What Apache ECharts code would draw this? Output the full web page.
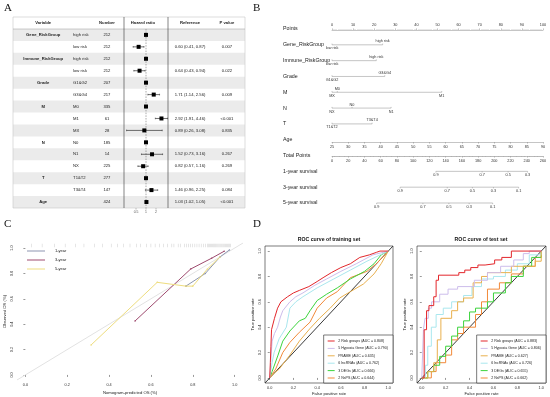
<!DOCTYPE html>
<html><head><meta charset="utf-8">
<script src="https://cdn.jsdelivr.net/npm/echarts@6/dist/echarts.min.js"></script>
<style>html,body{margin:0;padding:0;background:#fff}#c{width:550px;height:397px}</style>
</head><body><div id="c"></div>
<script>
// ================= DATA =================
// Panel A - forest plot
const forestVars   = ['Gene_RiskGroup','','Immune_RiskGroup','','Grade','','M','','','N','','','T','','Age'];
const forestLevels = ['high risk','low risk','high risk','low risk','G1&G2','G3&G4','M0','M1','MX','N0','N1','NX','T1&T2','T3&T4',''];
const forestN      = [212,212,212,212,207,217,335,61,28,185,14,225,277,147,424];
const forestHR     = [1,0.60,1,0.64,1,1.71,1,2.92,0.89,1,1.52,0.82,1,1.46,1.03];
const forestLo     = [null,0.41,null,0.43,null,1.14,null,1.91,0.26,null,0.73,0.57,null,0.96,1.02];
const forestHi     = [null,0.87,null,0.94,null,2.56,null,4.46,3.08,null,3.16,1.16,null,2.25,1.05];
const forestP      = ['','0.007','','0.022','','0.009','','<0.001','0.835','','0.267','0.269','','0.084','<0.001'];
const forestHeader = ['Variable','Number','Hazard ratio','Reference','P value'];
const forestTicks  = [0.5, 1, 2];

// Panel B - nomogram
const nomoRowLabels = ['Points','Gene_RiskGroup','Immune_RiskGroup','Grade','M','N','T','Age','Total Points','1-year survival','3-year survival','5-year survival'];
const geneLevels = ['low risk','high risk'];   const genePts = [0, 24];
const immuneLevels = ['low risk','high risk']; const immunePts = [0, 21];
const gradeLevels = ['G1&G2','G3&G4'];         const gradePts = [0, 25];
const mLevels = ['MX','M0','M1'];              const mPts = [0, 2.5, 52];
const nLevels = ['NX','N0','N1'];              const nPts = [0, 9.5, 28];
const tLevels = ['T1&T2','T3&T4'];             const tPts = [0, 19];
const surv1yProb = [0.9,0.7,0.5,0.3];      const surv1yPts = [128,185,217,241];
const surv3yProb = [0.9,0.7,0.5,0.3,0.1];  const surv3yPts = [84,142,173,199,230];
const surv5yProb = [0.9,0.7,0.5,0.3,0.1];  const surv5yPts = [55,112,144,169,198];

// Panel C - calibration
const cal1yPred = [0.767,0.86,0.93,0.975]; const cal1yObs = [0.70,0.80,0.93,0.985];
const cal3yPred = [0.524,0.79,0.89,0.95];  const cal3yObs = [0.425,0.835,0.92,0.975];
const cal5yPred = [0.314,0.63,0.767,0.80,0.87,0.93]; const cal5yObs = [0.236,0.73,0.70,0.70,0.835,0.93];
const rugPred = [0.03,0.08,0.14,0.19,0.24,0.28,0.33,0.37,0.41,0.44,0.47,0.50,0.53,0.55,0.58,0.60,0.62,0.64,0.66,0.68,0.70,0.71,0.73,0.74,0.76,0.77,0.78,0.79,0.80,0.81,0.82,0.83,0.84,0.85,0.86,0.87,0.875,0.88,0.885,0.89,0.895,0.90,0.905,0.91,0.915,0.92,0.925,0.93,0.935,0.94,0.945,0.95,0.955,0.96,0.965,0.97,0.975,0.98];
const axisTicks01 = [0,0.2,0.4,0.6,0.8,1.0];

// Panel D - ROC
const rocModels = ['2 Risk groups','5 Hypoxia Gene','PRAME','6 lncRNAs','3 DEGs','2 NsPS'];
const aucTrain = ['0.808','0.790','0.635','0.762','0.666','0.644'];
const aucTest  = ['0.883','0.806','0.627','0.726','0.655','0.662'];
const trainRed = [[0,0],[0.005,0.12],[0.01,0.25],[0.015,0.38],[0.04,0.47],[0.066,0.55],[0.094,0.60],[0.15,0.64],[0.2,0.67],[0.25,0.69],[0.33,0.72],[0.4,0.76],[0.45,0.79],[0.52,0.83],[0.6,0.87],[0.68,0.90],[0.76,0.95],[0.84,0.97],[0.9,0.99],[0.93,1],[1,1]];
const trainLav = [[0,0],[0.01,0.15],[0.02,0.29],[0.04,0.35],[0.066,0.40],[0.09,0.48],[0.11,0.53],[0.17,0.60],[0.22,0.64],[0.28,0.67],[0.38,0.73],[0.48,0.78],[0.6,0.84],[0.73,0.90],[0.87,0.97],[1,1]];
const trainTan = [[0,0],[0.04,0.04],[0.08,0.07],[0.17,0.18],[0.25,0.29],[0.34,0.39],[0.42,0.47],[0.51,0.55],[0.59,0.63],[0.68,0.68],[0.79,0.74],[0.88,0.82],[0.94,0.90],[1,1]];
const trainCyan = [[0,0],[0.02,0.12],[0.037,0.20],[0.08,0.31],[0.14,0.40],[0.17,0.55],[0.22,0.60],[0.28,0.64],[0.4,0.71],[0.54,0.78],[0.68,0.85],[0.82,0.92],[1,1]];
const trainGreen = [[0,0],[0.02,0.05],[0.07,0.18],[0.11,0.29],[0.17,0.37],[0.25,0.45],[0.30,0.47],[0.34,0.53],[0.4,0.61],[0.48,0.66],[0.57,0.71],[0.68,0.78],[0.8,0.84],[0.88,0.90],[0.94,0.97],[1,1]];
const trainOrange = [[0,0],[0.05,0.07],[0.11,0.20],[0.17,0.28],[0.25,0.36],[0.34,0.44],[0.4,0.55],[0.48,0.63],[0.57,0.68],[0.68,0.79],[0.82,0.84],[0.9,0.90],[1,1]];
const testRed = [[0,0],[0.02,0.38],[0.04,0.53],[0.06,0.57],[0.1,0.64],[0.12,0.77],[0.14,0.81],[0.31,0.83],[0.36,0.85],[0.41,0.87],[0.47,0.89],[0.53,0.90],[0.61,0.93],[0.67,0.95],[0.75,1],[1,1]];
const testLav = [[0,0],[0.014,0.38],[0.027,0.47],[0.055,0.55],[0.082,0.60],[0.15,0.66],[0.22,0.70],[0.30,0.72],[0.44,0.77],[0.55,0.83],[0.66,0.88],[0.77,0.93],[0.85,0.98],[0.9,1],[1,1]];
const testTan = [[0,0],[0.05,0.05],[0.1,0.12],[0.13,0.30],[0.16,0.47],[0.25,0.53],[0.30,0.60],[0.35,0.63],[0.43,0.75],[0.5,0.80],[0.55,0.83],[0.75,0.88],[0.95,0.92],[1,1]];
const testCyan = [[0,0],[0.03,0.10],[0.05,0.25],[0.08,0.40],[0.12,0.50],[0.18,0.55],[0.25,0.60],[0.35,0.65],[0.42,0.72],[0.5,0.78],[0.6,0.80],[0.7,0.85],[0.8,0.90],[0.9,0.97],[1,1]];
const testGreen = [[0,0],[0.05,0.05],[0.1,0.10],[0.15,0.17],[0.2,0.25],[0.25,0.33],[0.3,0.40],[0.35,0.45],[0.4,0.52],[0.45,0.55],[0.55,0.60],[0.6,0.67],[0.7,0.75],[0.75,0.80],[0.85,0.88],[0.92,0.95],[1,1]];
const testOrange = [[0,0],[0.08,0.05],[0.12,0.12],[0.2,0.18],[0.25,0.30],[0.3,0.35],[0.35,0.40],[0.45,0.50],[0.5,0.60],[0.55,0.70],[0.65,0.75],[0.75,0.82],[0.85,0.88],[0.95,0.95],[1,1]];

// ================= LAYOUT / STYLE =================
const FONT = 'Liberation Sans';
const COL = {variable:0.13, level:0.259, number:0.405, hr:0.56, ref:0.763, p:0.922};
const rocColors = ['#E3262B','#CDBDEB','#E9B04E','#A9E7EE','#3DD43D','#F28A3A'];
const calColors = ['#8C95B0','#9E4A6E','#EEDD7E'];

const chart = echarts.init(document.getElementById('c'), null, {renderer:'canvas'});

const fmt2 = v => v.toFixed(2);
function txt(text, x, y, o) {
  return {type:'text', style:Object.assign({text, x, y, fontFamily:FONT, fontSize:4.2, fill:'#222', align:'center', verticalAlign:'middle'}, o||{})};
}

// table shading
const shadeSeries = {
  type:'custom', xAxisIndex:0, yAxisIndex:0, z:1, silent:true,
  data: forestN.map((n,i)=>[0.5, i+1]),
  renderItem(params, api){
    const row = api.value(1);
    if (row % 2 !== 1) return;
    const a = api.coord([0,row-0.5]), b = api.coord([1,row+0.5]);
    return {type:'rect', shape:{x:a[0], y:a[1], width:b[0]-a[0], height:b[1]-a[1]}, style:{fill:'#EBEBEB'}};
  }
};
const tableTextSeries = {
  type:'custom', xAxisIndex:0, yAxisIndex:0, z:5, silent:true,
  data: forestN.map((n,i)=>[0.5, i+1]),
  renderItem(params, api){
    const i = params.dataIndex, row = api.value(1);
    const y = api.coord([0,row])[1];
    const X = c => api.coord([c,row])[0];
    const ch = [];
    if (forestVars[i]) ch.push(txt(forestVars[i], X(COL.variable), y, {fontWeight:'bold'}));
    if (forestLevels[i]) ch.push(txt(forestLevels[i], X(COL.level), y, {align:'left'}));
    ch.push(txt(String(forestN[i]), X(COL.number), y));
    if (forestLo[i] != null) ch.push(txt(fmt2(forestHR[i])+' ('+fmt2(forestLo[i])+', '+fmt2(forestHi[i])+')', X(COL.ref), y));
    if (forestP[i]) ch.push(txt(forestP[i], X(COL.p), y));
    return {type:'group', children:ch};
  }
};
const tableHeaderSeries = {
  type:'custom', xAxisIndex:0, yAxisIndex:0, z:5, silent:true,
  data:[[0.5,0]],
  renderItem(params, api){
    const y = api.coord([0,0])[1];
    const xs = [COL.variable, COL.number, COL.hr, COL.ref, COL.p];
    return {type:'group', children: forestHeader.map((h,k)=>txt(h, api.coord([xs[k],0])[0], y, {fontWeight:'bold'}))};
  }
};
const forestSeries = {
  type:'custom', xAxisIndex:1, yAxisIndex:1, z:6, silent:true,
  data: forestHR.map((h,i)=>[h, i+1]),
  renderItem(params, api){
    const i = params.dataIndex;
    const c = api.coord([api.value(0), api.value(1)]);
    const ch = [];
    if (forestLo[i] != null) {
      const a = api.coord([forestLo[i], i+1]), b = api.coord([forestHi[i], i+1]);
      ch.push({type:'line', shape:{x1:a[0],y1:a[1],x2:b[0],y2:b[1]}, style:{stroke:'#111', lineWidth:0.6}});
      ch.push({type:'line', shape:{x1:a[0],y1:a[1]-0.8,x2:a[0],y2:a[1]+0.8}, style:{stroke:'#111', lineWidth:0.5}});
      ch.push({type:'line', shape:{x1:b[0],y1:b[1]-0.8,x2:b[0],y2:b[1]+0.8}, style:{stroke:'#111', lineWidth:0.5}});
    }
    ch.push({type:'rect', shape:{x:c[0]-2, y:c[1]-2, width:4, height:4}, style:{fill:'#000'}});
    return {type:'group', children:ch};
  }
};
const forestRefLine = {
  type:'custom', xAxisIndex:1, yAxisIndex:1, z:4, silent:true,
  data:[[1,0.5]],
  renderItem(params, api){
    const a = api.coord([1,0.5]), b = api.coord([1,15.5]);
    return {type:'line', shape:{x1:a[0],y1:a[1],x2:b[0],y2:b[1]}, style:{stroke:'#555', lineWidth:0.5, lineDash:[1.5,1.2]}};
  }
};
const forestTickSeries = {
  type:'custom', xAxisIndex:1, yAxisIndex:1, z:6, silent:true,
  data: forestTicks.map(v=>[v,15.5]),
  renderItem(params, api){
    const c = api.coord([api.value(0), 15.5]);
    return {type:'group', children:[
      {type:'line', shape:{x1:c[0],y1:c[1],x2:c[0],y2:c[1]+1.5}, style:{stroke:'#666', lineWidth:0.5}},
      txt(String(api.value(0)), c[0], c[1]+3.6, {fontSize:3.4, fill:'#555'})
    ]};
  }
};

// nomogram
const nomoLv = [geneLevels, immuneLevels, gradeLevels, mLevels, nLevels, tLevels];
const nomoPt = [genePts, immunePts, gradePts, mPts, nPts, tPts];
const nomoVarSeries = {
  type:'custom', xAxisIndex:2, yAxisIndex:2, silent:true,
  data: nomoLv.map((l,j)=>[0, j+1]),
  renderItem(params, api){
    const j = params.dataIndex, row = j+1;
    const pts = nomoPt[j], lv = nomoLv[j];
    const a = api.coord([Math.min(...pts), row]), b = api.coord([Math.max(...pts), row]);
    const ch = [{type:'line', shape:{x1:a[0],y1:a[1],x2:b[0],y2:b[1]}, style:{stroke:'#8a8a8a', lineWidth:0.5}}];
    pts.forEach((p,k)=>{
      const c = api.coord([p,row]);
      ch.push({type:'line', shape:{x1:c[0],y1:c[1]-1.2,x2:c[0],y2:c[1]}, style:{stroke:'#8a8a8a', lineWidth:0.5}});
      ch.push(txt(lv[k], c[0], k%2===0 ? c[1]+3.4 : c[1]-3.6, {fontSize:3.8, fill:'#333'}));
    });
    return {type:'group', children:ch};
  }
};
const survP = [surv1yPts, surv3yPts, surv5yPts], survV = [surv1yProb, surv3yProb, surv5yProb];
const nomoSurvSeries = {
  type:'custom', xAxisIndex:3, yAxisIndex:2, silent:true,
  data: survP.map((s,j)=>[0, 9+j]),
  renderItem(params, api){
    const j = params.dataIndex, row = 9+j;
    const pts = survP[j], pv = survV[j];
    const a = api.coord([pts[0], row]), b = api.coord([pts[pts.length-1], row]);
    const ch = [{type:'line', shape:{x1:a[0],y1:a[1],x2:b[0],y2:b[1]}, style:{stroke:'#8a8a8a', lineWidth:0.5}}];
    pts.forEach((p,k)=>{
      const c = api.coord([p,row]);
      ch.push({type:'line', shape:{x1:c[0],y1:c[1],x2:c[0],y2:c[1]+1.2}, style:{stroke:'#8a8a8a', lineWidth:0.5}});
      ch.push(txt(pv[k].toFixed(1), c[0], c[1]+3.6, {fontSize:3.8, fill:'#333'}));
    });
    return {type:'group', children:ch};
  }
};

function nomoAxis(grid, min, max, interval, pos, minor){
  return {type:'value', gridIndex:grid, min, max, interval, position:pos,
    axisLine:{show:true, lineStyle:{color:'#8a8a8a', width:0.5}},
    axisTick:{show:true, length:1.6, lineStyle:{color:'#8a8a8a', width:0.5}},
    minorTick:{show:!!minor, splitNumber:minor||5, length:1, lineStyle:{color:'#8a8a8a', width:0.4}},
    axisLabel:{fontSize:3.8, color:'#333', margin:2.5, fontFamily:FONT},
    splitLine:{show:false}};
}
const hiddenY = g => ({type:'value', gridIndex:g, show:false});

function plotAxis(grid, name, isY, nameGap){
  return {type:'value', gridIndex:grid, min:-0.04, max:1.04,
    name, nameLocation:'middle', nameGap, nameTextStyle:{fontSize:4.2, color:'#222', fontFamily:FONT},
    axisLine:{show:false},
    axisTick:{show:true, length:2, customValues:axisTicks01, lineStyle:{color:'#333', width:0.5}},
    axisLabel:{show:true, customValues:axisTicks01, formatter:v=>Number(v).toFixed(1), fontSize:3.8, color:'#333', margin:3, rotate:isY?90:0, fontFamily:FONT},
    splitLine:{show:false}};
}

const calSeries = [[cal1yPred,cal1yObs,'1-year'],[cal3yPred,cal3yObs,'3-year'],[cal5yPred,cal5yObs,'5-year']].map((d,k)=>({
  type:'line', name:d[2], xAxisIndex:7, yAxisIndex:6, data:d[0].map((x,i)=>[x,d[1][i]]),
  symbol:'circle', symbolSize:1.6, showSymbol:true, color:calColors[k],
  lineStyle:{width:1, color:calColors[k]}, itemStyle:{color:calColors[k]}, z:3
}));

const trainSets = [trainRed,trainLav,trainTan,trainCyan,trainGreen,trainOrange];
const testSets = [testRed,testLav,testTan,testCyan,testGreen,testOrange];
const trainNames = rocModels.map((m,k)=>m+' (AUC = '+aucTrain[k]+')');
const testNames = rocModels.map((m,k)=>m+' (AUC = '+aucTest[k]+')');
const rocSeries = [];
[[trainSets,trainNames,8,7,false],[testSets,testNames,9,8,true]].forEach(([sets,names,xi,yi,step])=>{
  rocSeries.push({type:'line', xAxisIndex:xi, yAxisIndex:yi, data:[[-0.04,-0.04],[1.04,1.04]], symbol:'none', lineStyle:{color:'#3a3a3a', width:1}, silent:true, z:2});
  for (let k=sets.length-1;k>=0;k--){
    rocSeries.push({type:'line', name:names[k], xAxisIndex:xi, yAxisIndex:yi, data:sets[k], symbol:'none', step: step?'end':false,
      color:rocColors[k], lineStyle:{color:rocColors[k], width:1}, z:3});
  }
});

function rocLegend(names, right){
  return {data:names.map(n=>({name:n, icon:'rect'})), orient:'vertical', right, bottom:14,
    itemWidth:7, itemHeight:1, itemGap:3.4, padding:[4,5,3,4], borderColor:'#222', borderWidth:0.6, backgroundColor:'#fff',
    textStyle:{fontSize:3.6, color:'#222', fontFamily:FONT, padding:[0,0,0,-1.5]}, selectedMode:false, z:10};
}

const option = {
  animation:false, backgroundColor:'#fff', textStyle:{fontFamily:FONT},
  grid:[
    {left:13, top:17, width:232, height:191},
    {left:124, top:17, width:44, height:191},
    {left:332, top:21.1, width:211, height:189.8},
    {left:332, top:29, width:211, height:1},
    {left:332, top:141, width:211, height:1},
    {left:332, top:155, width:211, height:1},
    {left:17, top:243, width:226, height:137},
    {left:265, top:246, width:128, height:137, show:true, borderColor:'#222', borderWidth:0.6},
    {left:417, top:246, width:129, height:137, show:true, borderColor:'#222', borderWidth:0.6}
  ],
  xAxis:[
    {type:'value', gridIndex:0, min:0, max:1, show:false},
    {type:'log', gridIndex:1, min:1/4.6, max:4.6, show:false},
    {type:'value', gridIndex:2, min:0, max:100, show:false},
    {type:'value', gridIndex:2, min:0, max:260, show:false, position:'top'},
    nomoAxis(3, 0, 100, 10, 'top', 10),
    nomoAxis(4, 25, 90, 5, 'bottom', 0),
    nomoAxis(5, 0, 260, 20, 'bottom', 10),
    plotAxis(6, 'Nomogram-predicted OS (%)', false, 11),
    plotAxis(7, 'False positive rate', false, 9),
    plotAxis(8, 'False positive rate', false, 9)
  ],
  yAxis:[
    {type:'value', gridIndex:0, min:-0.5, max:15.5, inverse:true, show:false},
    {type:'value', gridIndex:1, min:-0.5, max:15.5, inverse:true, show:false},
    {type:'category', gridIndex:2, data:nomoRowLabels, inverse:true, axisLine:{show:false}, axisTick:{show:false},
      axisLabel:{align:'left', margin:49, fontSize:5.3, color:'#222', fontFamily:FONT}},
    hiddenY(3), hiddenY(4), hiddenY(5),
    plotAxis(6, 'Observed OS (%)', true, 10),
    plotAxis(7, 'True positive rate', true, 10),
    plotAxis(8, 'True positive rate', true, 10)
  ],
  legend:[
    {data:['1-year','3-year','5-year'].map(n=>({name:n, icon:'rect'})), orient:'vertical', left:27, top:249,
      itemWidth:18, itemHeight:1, itemGap:5, padding:0, textStyle:{fontSize:4, color:'#222', fontFamily:FONT, padding:[0,0,0,5]}, selectedMode:false},
    rocLegend(trainNames, 157),
    rocLegend(testNames, 4)
  ],
  graphic:[
    {type:'rect', shape:{x:13, y:17, width:232, height:191}, style:{fill:'none', stroke:'#c8c8c8', lineWidth:0.6}, z:20},
    {type:'line', shape:{x1:13, y1:29, x2:245, y2:29}, style:{stroke:'#9a9a9a', lineWidth:0.5}, z:20},
    {type:'line', shape:{x1:124, y1:17, x2:124, y2:208}, style:{stroke:'#333', lineWidth:0.6}, z:20},
    {type:'line', shape:{x1:168, y1:17, x2:168, y2:208}, style:{stroke:'#333', lineWidth:0.6}, z:20},
    {type:'text', left:4, top:3, style:{text:'A', fontFamily:'Liberation Serif', fontSize:11, fill:'#111'}},
    {type:'text', left:253, top:3, style:{text:'B', fontFamily:'Liberation Serif', fontSize:11, fill:'#111'}},
    {type:'text', left:4, top:219, style:{text:'C', fontFamily:'Liberation Serif', fontSize:11, fill:'#111'}},
    {type:'text', left:253, top:219, style:{text:'D', fontFamily:'Liberation Serif', fontSize:11, fill:'#111'}},
    {type:'text', x:329, y:240, style:{text:'ROC curve of training set', fontFamily:FONT, fontSize:5.2, fontWeight:'bold', fill:'#111', align:'center', verticalAlign:'middle'}},
    {type:'text', x:481, y:240, style:{text:'ROC curve of test set', fontFamily:FONT, fontSize:5.2, fontWeight:'bold', fill:'#111', align:'center', verticalAlign:'middle'}}
  ],
  series:[
    shadeSeries, tableHeaderSeries, tableTextSeries, forestRefLine, forestSeries, forestTickSeries,
    nomoVarSeries, nomoSurvSeries,
    {type:'line', xAxisIndex:7, yAxisIndex:6, data:[[-0.04,-0.04],[1.04,1.04]], symbol:'none', lineStyle:{color:'#E2E2E2', width:1}, silent:true, z:1},
    {type:'scatter', xAxisIndex:7, yAxisIndex:6, data:rugPred.map(v=>[v,1.02]), symbol:'rect', symbolSize:[0.4,3.5], itemStyle:{color:'#b0b0b0'}, silent:true},
    ...calSeries,
    ...rocSeries
  ]
};
chart.setOption(option);
</script>
</body></html>
